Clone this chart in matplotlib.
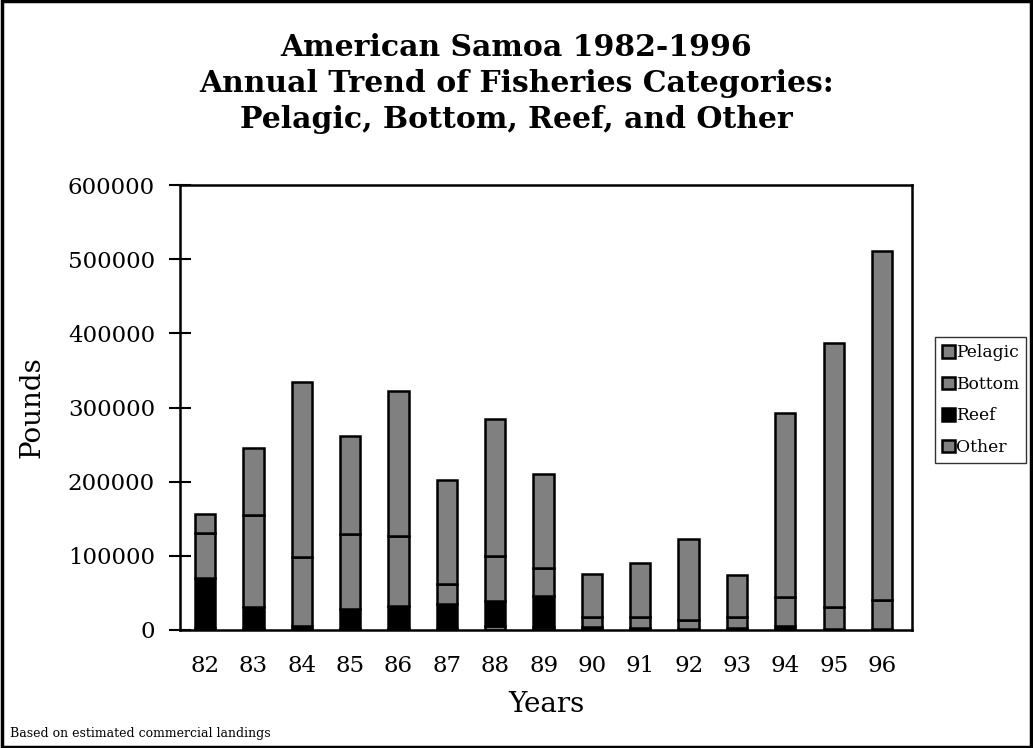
import matplotlib.pyplot as plt
from matplotlib.patches import Rectangle

# values (pounds)
years = ["82", "83", "84", "85", "86", "87", "88", "89",
         "90", "91", "92", "93", "94", "95", "96"]
other = [3000, 1000, 1000, 1000, 1000, 1000, 6000, 4000,
         1000, 1000, 1000, 1000, 1000, 1000, 1000]
reef = [67000, 30000, 4000, 27000, 32000, 34000, 33500, 42000,
        3500, 1500, 1000, 1500, 4000, 1000, 1000]
bottom = [61000, 124000, 93000, 102000, 94000, 27000, 60500, 37000,
          13500, 15000, 12000, 15000, 39000, 28500, 38000]
pelagic = [25000, 91000, 237000, 132000, 195000, 140000, 184000, 128000,
           58000, 73500, 109000, 56500, 248500, 356500, 471000]

plt.rcParams["font.family"] = ["DejaVu Serif"]

fig = plt.figure(figsize=(10.33, 7.48), dpi=100)
ax = fig.add_axes([180 / 1033, 1 - 630 / 748, 732 / 1033, 445 / 748])

x = list(range(len(years)))
w = 0.42
edge = dict(edgecolor="black", linewidth=1.8)
b_other = ax.bar(x, other, w, color="#808080", label="Other", **edge)
base = other
b_reef = ax.bar(x, reef, w, bottom=base, color="black", label="Reef", **edge)
base = [a + b for a, b in zip(base, reef)]
b_bottom = ax.bar(x, bottom, w, bottom=base, color="#808080", label="Bottom", **edge)
base = [a + b for a, b in zip(base, bottom)]
b_pel = ax.bar(x, pelagic, w, bottom=base, color="#808080", label="Pelagic", **edge)

ax.set_xlim(-0.52, 14.62)
ax.set_ylim(0, 600000)
ax.set_yticks(range(0, 600001, 100000))
ax.set_yticklabels([str(v) for v in range(0, 600001, 100000)], fontsize=16.5)
ax.set_xticks(x)
ax.set_xticklabels(years, fontsize=16.5)
ax.tick_params(axis="y", direction="inout", length=16, width=1.5, pad=10)
ax.tick_params(axis="x", length=0, pad=18)
for s in ax.spines.values():
    s.set_linewidth(1.8)

ax.set_ylabel("Pounds", fontsize=20, labelpad=16)
ax.set_xlabel("Years", fontsize=20, labelpad=10)

fig.text(0.5, 1 - 33 / 748, "American Samoa 1982-1996\nAnnual Trend of Fisheries Categories:\nPelagic, Bottom, Reef, and Other",
         ha="center", va="top", fontsize=21.5, fontweight="bold", linespacing=1.3)
fig.text(10 / 1033, 1 - 740 / 748, "Based on estimated commercial landings",
         fontsize=9, ha="left", va="bottom")

leg = fig.legend([b_pel, b_bottom, b_reef, b_other],
                 ["Pelagic", "Bottom", "Reef", "Other"],
                 loc="center left", bbox_to_anchor=(935 / 1033, 1 - 400 / 748),
                 fontsize=12.3, frameon=True, fancybox=False, edgecolor="black",
                 handlelength=0.75, handleheight=0.75, handletextpad=0.1,
                 borderpad=0.4, labelspacing=0.85, borderaxespad=0)
leg.get_frame().set_linewidth(1.0)

fig.patches.append(Rectangle((0.002, 0.002), 0.996, 0.996, transform=fig.transFigure,
                             fill=False, edgecolor="black", linewidth=2.5))

fig.savefig("out.png", dpi=100)
